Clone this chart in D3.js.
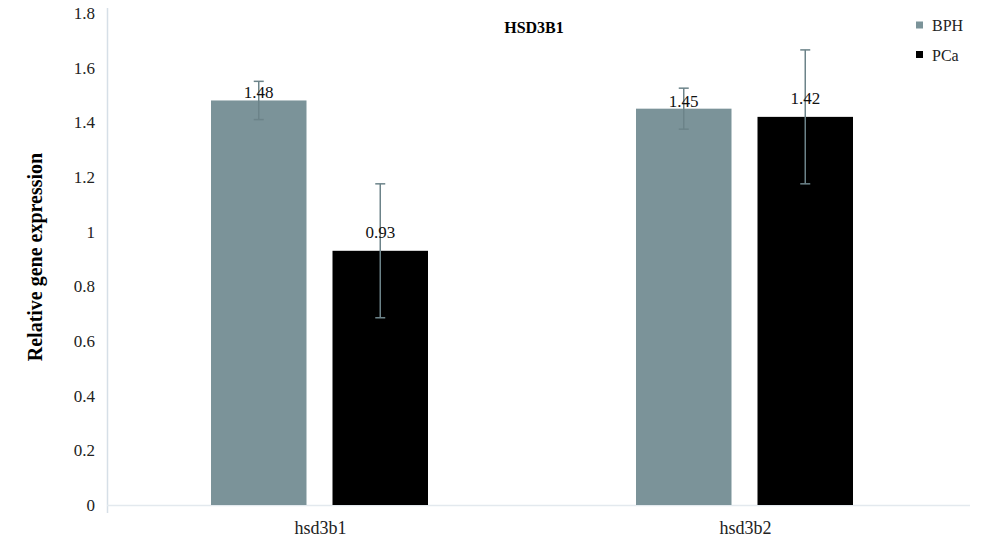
<!DOCTYPE html>
<html><head><meta charset="utf-8">
<script src="https://cdn.jsdelivr.net/npm/d3@7"></script>
<style>body{margin:0;background:#fff}svg{display:block}</style>
</head><body>
<svg id="c" width="1000" height="547"></svg>
<script>
const categories = ["hsd3b1", "hsd3b2"];
const seriesNames = ["BPH", "PCa"];
const bphValues = [1.48, 1.45];
const pcaValues = [0.93, 1.42];
const bphErrors = [0.07, 0.075];
const pcaErrors = [0.245, 0.245];
const yTicks = [0, 0.2, 0.4, 0.6, 0.8, 1, 1.2, 1.4, 1.6, 1.8];
const title = "HSD3B1";
const yLabel = "Relative gene expression";

const colors = {BPH: "#7b9399", PCa: "#000000"};
const labelOffset = {BPH: 2, PCa: 13};
const serif = "'Liberation Serif', 'DejaVu Serif', serif";

const svg = d3.select("#c");
const x0 = d3.scaleBand().domain(categories).range([107, 957]).paddingInner(0).paddingOuter(0);
const x1 = d3.scaleBand().domain(seriesNames).range([0, 217]).paddingInner(0.214);
const y = d3.scaleLinear().domain([0, 1.8]).range([505, 13]);

// y axis line
svg.append("line").attr("x1", 107.5).attr("x2", 107.5).attr("y1", 8).attr("y2", 513)
  .attr("stroke", "#d6dfe7").attr("stroke-width", 1.5);
// x axis line
svg.append("line").attr("x1", 107).attr("x2", 970).attr("y1", y(0) + 0.5).attr("y2", y(0) + 0.5)
  .attr("stroke", "#e3e9ee").attr("stroke-width", 1.5);

// y ticks
const yAxis = d3.axisLeft(y).tickValues(yTicks).tickSize(0).tickPadding(0).tickFormat(d => String(d));
const ga = svg.append("g").attr("transform", "translate(95,0)").call(yAxis);
ga.select(".domain").remove();
ga.selectAll("text").attr("font-family", serif).attr("font-size", 17).attr("fill", "#222");

// x labels
const xAxis = d3.axisBottom(x0).tickSize(0).tickPadding(0);
const gx = svg.append("g").attr("transform", `translate(1,${y(0) + 16})`).call(xAxis);
gx.select(".domain").remove();
gx.selectAll("text").attr("font-family", serif).attr("font-size", 18).attr("fill", "#222");

const data = [];
categories.forEach((c, i) => {
  data.push({cat: c, s: "BPH", v: bphValues[i], e: bphErrors[i]});
  data.push({cat: c, s: "PCa", v: pcaValues[i], e: pcaErrors[i]});
});
const gw = 217;
const bx = d => x0(d.cat) + (x0.bandwidth() - gw) / 2 + x1(d.s);

svg.selectAll("rect.bar").data(data).join("rect").attr("class", "bar")
  .attr("x", bx).attr("width", x1.bandwidth())
  .attr("y", d => y(d.v)).attr("height", d => y(0) - y(d.v))
  .attr("fill", d => colors[d.s]);

// error bars
const eg = svg.append("g").attr("stroke", "#6c8389").attr("stroke-width", 1.5);
data.forEach(d => {
  const cx = bx(d) + x1.bandwidth() / 2;
  eg.append("line").attr("x1", cx).attr("x2", cx).attr("y1", y(d.v + d.e)).attr("y2", y(d.v - d.e));
  eg.append("line").attr("x1", cx - 5).attr("x2", cx + 5).attr("y1", y(d.v + d.e)).attr("y2", y(d.v + d.e));
  eg.append("line").attr("x1", cx - 5).attr("x2", cx + 5).attr("y1", y(d.v - d.e)).attr("y2", y(d.v - d.e));
});

// value labels
svg.selectAll("text.val").data(data).join("text").attr("class", "val")
  .attr("x", d => bx(d) + x1.bandwidth() / 2)
  .attr("y", d => y(d.v) - labelOffset[d.s])
  .attr("text-anchor", "middle").attr("font-family", serif).attr("font-size", 17).attr("fill", "#111")
  .text(d => d.v.toFixed(2));

// title
svg.append("text").attr("x", 534).attr("y", 33).attr("text-anchor", "middle")
  .attr("font-family", serif).attr("font-weight", "bold").attr("font-size", 16).text(title);

// y label
svg.append("text").attr("transform", "translate(42,257) rotate(-90)").attr("text-anchor", "middle")
  .attr("font-family", serif).attr("font-weight", "bold").attr("font-size", 20).text(yLabel);

// legend
const lg = svg.append("g").selectAll("g").data(seriesNames).join("g")
  .attr("transform", (d, i) => `translate(916,${25 + i * 29.5})`);
lg.append("rect").attr("x", 0).attr("y", -3.5).attr("width", 7).attr("height", 7).attr("fill", d => colors[d]);
lg.append("text").attr("x", 16).attr("y", 6).attr("font-family", serif).attr("font-size", 16).attr("fill", "#222").text(d => d);
</script>
</body></html>
